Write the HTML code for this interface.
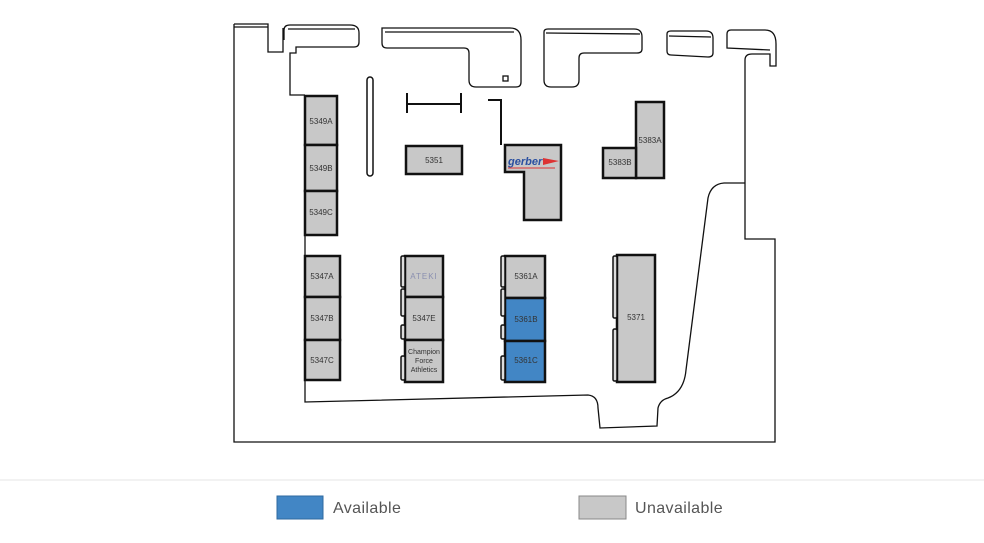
<!DOCTYPE html>
<html><head><meta charset="utf-8"><style>
html,body{margin:0;padding:0;background:#fff;width:984px;height:543px;overflow:hidden}
svg{display:block}
text{font-family:"Liberation Sans",sans-serif;fill:#333}
</style></head><body>
<svg width="984" height="543" viewBox="0 0 984 543" xmlns="http://www.w3.org/2000/svg">
<g fill="none" stroke="#111" stroke-width="1.3">
<path d="M234,24 L268,24 L268,52 L283,52 L283,28"/>
<path d="M234,24 L234,442 L775,442 L775,239 L745,239 L745,60 Q745,54 752,54 L770,54 L770,66 L776,66 L776,44 Q776,30 765,30 L731,30 Q727,30 727,34 L727,48 L770,50"/>
<path d="M234,27 L268,27"/>
<path d="M284,40 L284,30 Q284,25 290,25 L350,25 Q359,25 359,33 L359,42 Q359,47 354,47 L296,47 L296,53 L290,53 L290,95 L305,95"/>
<path d="M288,29 L355,29"/>
<path d="M382,28 L510,28 Q521,28 521,40 L521,82 Q521,87 516,87 L476,87 Q469,87 469,80 L469,53 Q469,48 464,48 L387,48 Q382,48 382,43 Z"/>
<path d="M385,32 L514,32"/>
<rect x="503" y="76" width="5" height="5"/>
<path d="M544,32 Q544,29 548,29 L634,29 Q642,29 642,37 L642,49 Q642,53 637,53 L584,53 Q579,53 579,58 L579,80 Q579,87 572,87 L551,87 Q544,87 544,80 Z"/>
<path d="M546,33 L640,34"/>
<path d="M667,34 Q667,31 671,31 L706,31 Q713,31 713,38 L713,53 Q713,57 708,57 L671,55 Q667,55 667,51 Z"/>
<path d="M669,36 L711,37"/>
<path d="M305,235 L305,402 L588,395 Q598,396 598,408 L600,428 L657,426 L658,408 Q660,400 668,398 Q684,392 686,370 L708,198 Q711,184 724,183 L745,183"/>
</g>
<rect x="367" y="77" width="6" height="99" rx="3" fill="none" stroke="#111" stroke-width="1.5"/>
<g stroke="#111" stroke-width="2" fill="none">
<path d="M407,104 L461,104 M407,93 L407,113 M461,93 L461,113"/>
<path d="M488,100 L501,100 L501,145"/>
</g>
<g stroke="#111" stroke-width="2.5" fill="#c8c8c8">
<rect x="305" y="96" width="32" height="49"/>
<rect x="305" y="145" width="32" height="46"/>
<rect x="305" y="191" width="32" height="44"/>
<rect x="406" y="146" width="56" height="28"/>
<path d="M505,145 L561,145 L561,220 L524,220 L524,172 L505,172 Z"/>
<rect x="636" y="102" width="28" height="76"/>
<rect x="603" y="148" width="33" height="30"/>
<rect x="305" y="256" width="35" height="41"/>
<rect x="305" y="297" width="35" height="43"/>
<rect x="305" y="340" width="35" height="40"/>
<rect x="405" y="256" width="38" height="41"/>
<rect x="405" y="297" width="38" height="43"/>
<rect x="405" y="340" width="38" height="42"/>
<rect x="505" y="256" width="40" height="42"/>
<rect x="505" y="298" width="40" height="43" fill="#4286c5"/>
<rect x="505" y="341" width="40" height="41" fill="#4286c5"/>
<rect x="617" y="255" width="38" height="127"/>
</g>
<g stroke="#111" stroke-width="1.5" fill="#ddd">
<rect x="401" y="256" width="4" height="31" rx="1.5"/>
<rect x="401" y="289" width="4" height="27" rx="1.5"/>
<rect x="401" y="325" width="4" height="14" rx="1.5"/>
<rect x="401" y="356" width="4" height="24" rx="1.5"/>
<rect x="501" y="256" width="4" height="31" rx="1.5"/>
<rect x="501" y="289" width="4" height="27" rx="1.5"/>
<rect x="501" y="325" width="4" height="14" rx="1.5"/>
<rect x="501" y="356" width="4" height="24" rx="1.5"/>
<rect x="613" y="256" width="4" height="62" rx="1.5"/>
<rect x="613" y="329" width="4" height="52" rx="1.5"/>
</g>
<g font-size="8" text-anchor="middle">
<text x="321" y="124">5349A</text>
<text x="321" y="171">5349B</text>
<text x="321" y="215">5349C</text>
<text x="434" y="163">5351</text>
<text x="650" y="143">5383A</text>
<text x="620" y="165">5383B</text>
<text x="322" y="279">5347A</text>
<text x="322" y="321">5347B</text>
<text x="322" y="363">5347C</text>
<text x="424" y="279" style="fill:#8a8fb0;letter-spacing:1px">ATEKI</text>
<text x="424" y="321">5347E</text>
<text x="424" y="354" font-size="7">Champion</text>
<text x="424" y="363" font-size="7">Force</text>
<text x="424" y="372" font-size="7">Athletics</text>
<text x="526" y="279">5361A</text>
<text x="526" y="322">5361B</text>
<text x="526" y="363">5361C</text>
<text x="636" y="320">5371</text>
</g>
<text x="508" y="165" font-size="11" font-weight="bold" font-style="italic" style="fill:#2a4fa0">gerber</text>
<path d="M543,158 L559,161 L543,165 Z" fill="#d33"/>
<path d="M508,168 L555,168" stroke="#d33" stroke-width="1"/>
<line x1="0" y1="480" x2="984" y2="480" stroke="#e6e6e6" stroke-width="1"/>
<rect x="277" y="496" width="46" height="23" fill="#4286c5" stroke="#2f6aa0" stroke-width="1"/>
<text x="333" y="513" font-size="16" style="fill:#555;letter-spacing:0.4px">Available</text>
<rect x="579" y="496" width="47" height="23" fill="#c8c8c8" stroke="#888" stroke-width="1"/>
<text x="635" y="513" font-size="16" style="fill:#555;letter-spacing:0.4px">Unavailable</text>
</svg>
</body></html>
